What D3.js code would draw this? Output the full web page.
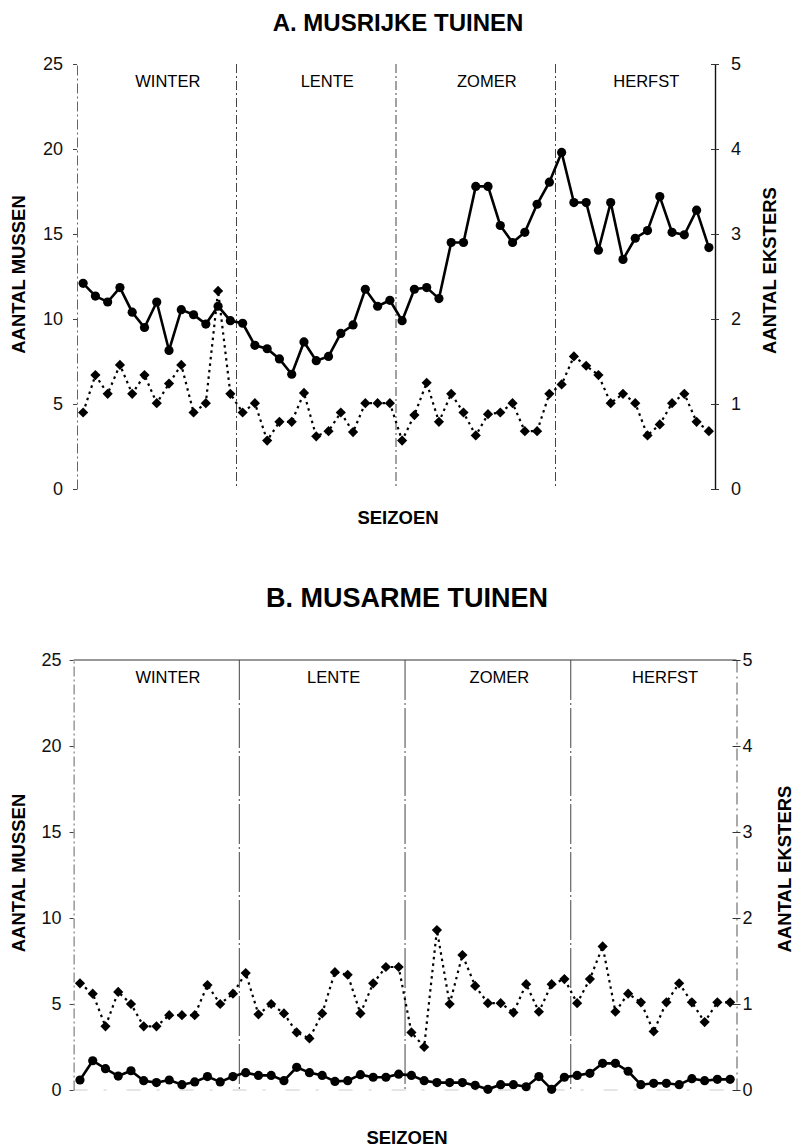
<!DOCTYPE html>
<html>
<head>
<meta charset="utf-8">
<script src="https://cdn.jsdelivr.net/npm/d3@7"></script>
<style>
  body { margin: 0; background: #fff; }
  svg { display: block; font-family: "Liberation Sans", Arial, sans-serif; }
</style>
</head>
<body>
<svg id="chart" width="796" height="1147"></svg>
<script>
const seasons = ["WINTER", "LENTE", "ZOMER", "HERFST"];
const weeks = d3.range(1, 53);
const seasonEnds = [13, 26, 39];
const mussenTicks = [0, 5, 10, 15, 20, 25];
const ekstersTicks = [0, 1, 2, 3, 4, 5];

// A. musrijke tuinen
const rijkMussen = [12.1, 11.35, 11.0, 11.85, 10.4, 9.5, 11.0, 8.15, 10.55, 10.25, 9.7, 10.75, 9.9,
  9.75, 8.45, 8.25, 7.65, 6.75, 8.65, 7.55, 7.8, 9.15, 9.65, 11.75, 10.75, 11.1,
  9.9, 11.75, 11.85, 11.2, 14.5, 14.5, 17.8, 17.8, 15.5, 14.5, 15.1, 16.75, 18.05,
  19.8, 16.85, 16.85, 14.05, 16.85, 13.5, 14.75, 15.2, 17.2, 15.1, 14.95, 16.4, 14.2];
const rijkEksters = [0.9, 1.34, 1.12, 1.46, 1.12, 1.34, 1.01, 1.24, 1.46, 0.9, 1.01, 2.33, 1.12,
  0.9, 1.01, 0.57, 0.79, 0.79, 1.13, 0.62, 0.68, 0.9, 0.67, 1.01, 1.01, 1.01,
  0.57, 0.87, 1.25, 0.79, 1.12, 0.9, 0.63, 0.88, 0.9, 1.01, 0.68, 0.68, 1.12,
  1.23, 1.56, 1.45, 1.34, 1.01, 1.12, 1.01, 0.63, 0.76, 1.01, 1.12, 0.79, 0.68];

// B. musarme tuinen
const armMussen = [0.58, 1.7, 1.24, 0.81, 1.12, 0.54, 0.43, 0.58, 0.31, 0.47, 0.78, 0.47, 0.78,
  1.01, 0.85, 0.85, 0.54, 1.32, 1.01, 0.85, 0.5, 0.54, 0.89, 0.74, 0.74, 0.92,
  0.85, 0.54, 0.43, 0.43, 0.43, 0.27, 0.04, 0.31, 0.31, 0.19, 0.78, 0.04, 0.74,
  0.85, 0.97, 1.55, 1.55, 1.09, 0.31, 0.39, 0.39, 0.31, 0.66, 0.54, 0.62, 0.62];
const armEksters = [1.24, 1.12, 0.74, 1.14, 1.0, 0.74, 0.74, 0.87, 0.87, 0.87, 1.22, 1.0, 1.12,
  1.36, 0.88, 1.0, 0.89, 0.67, 0.6, 0.89, 1.37, 1.34, 0.89, 1.24, 1.43, 1.43,
  0.67, 0.5, 1.86, 1.0, 1.57, 1.21, 1.01, 1.01, 0.9, 1.23, 0.91, 1.23, 1.29,
  1.01, 1.29, 1.67, 0.91, 1.12, 1.02, 0.68, 1.02, 1.24, 1.02, 0.79, 1.02, 1.02];

const svg = d3.select("#chart");

function drawPanel(p) {
  const g = svg.append("g");
  const x = d3.scaleLinear().domain([0.5, 52.5]).range([p.left, p.right]);
  const yM = d3.scaleLinear().domain([0, 25]).range([p.bottom, p.top]);
  const yE = d3.scaleLinear().domain([0, 5]).range([p.bottom, p.top]);

  g.append("text")
    .attr("x", (p.left + p.right) / 2 + 2)
    .attr("y", p.titleY)
    .attr("text-anchor", "middle")
    .attr("font-weight", "bold")
    .attr("font-size", p.titleSize)
    .text(p.title);

  if (p.frameTop) {
    g.append("line")
      .attr("x1", p.left).attr("x2", p.right)
      .attr("y1", p.top).attr("y2", p.top)
      .attr("stroke", "#333").attr("stroke-width", 1.2);
    g.append("line")
      .attr("x1", p.left).attr("x2", p.right)
      .attr("y1", p.bottom).attr("y2", p.bottom)
      .attr("stroke", "#ccc").attr("stroke-width", 1)
      .attr("stroke-dasharray", "14,16,3,20");
  }

  // season dividers
  g.selectAll("line.season")
    .data(seasonEnds)
    .join("line")
    .attr("class", "season")
    .attr("x1", (d) => x(d + 0.5)).attr("x2", (d) => x(d + 0.5))
    .attr("y1", p.top).attr("y2", p.bottom)
    .attr("stroke", "#444").attr("stroke-width", 1)
    .attr("stroke-dasharray", p.dividerDash);

  g.selectAll("text.season")
    .data(seasons)
    .join("text")
    .attr("class", "season")
    .attr("x", (d, i) => x(i * 13 + 7 + 0.9))
    .attr("y", p.top + 23)
    .attr("text-anchor", "middle")
    .attr("font-size", 16.5)
    .text((d) => d);

  const leftAxis = g.append("g")
    .attr("transform", `translate(${p.left},0)`)
    .call(d3.axisLeft(yM).tickValues(mussenTicks).tickFormat(d3.format("d"))
      .tickSize(4).tickSizeOuter(0).tickPadding(p.leftPad));
  leftAxis.select(".domain").attr("stroke", "#666").attr("stroke-dasharray", "10,3,2,3");
  leftAxis.selectAll(".tick line").attr("stroke", "#444");
  leftAxis.selectAll(".tick text")
    .attr("font-family", "Liberation Sans, Arial, sans-serif")
    .attr("font-size", 18).attr("fill", "#111");

  const rightAxis = g.append("g")
    .attr("transform", `translate(${p.right},0)`)
    .call(d3.axisRight(yE).tickValues(ekstersTicks).tickFormat(d3.format("d"))
      .tickSize(4).tickSizeOuter(0).tickPadding(p.rightPad));
  rightAxis.select(".domain")
    .attr("stroke", p.rightSolid ? "#111" : "#555")
    .attr("stroke-width", p.rightSolid ? 1.4 : 1)
    .attr("stroke-dasharray", p.rightSolid ? null : "12,4,2,4");
  rightAxis.selectAll(".tick line").attr("x1", -4).attr("x2", 4).attr("stroke", "#333");
  rightAxis.selectAll(".tick text")
    .attr("font-family", "Liberation Sans, Arial, sans-serif")
    .attr("font-size", 18).attr("fill", "#111");

  // axis titles
  g.append("text")
    .attr("transform", `translate(${p.mTitleX},${(p.top + p.bottom) / 2 - 2}) rotate(-90)`)
    .attr("text-anchor", "middle")
    .attr("dy", "0.35em")
    .attr("font-weight", "bold")
    .attr("font-size", 18.5)
    .text("AANTAL MUSSEN");
  g.append("text")
    .attr("transform", `translate(${p.eTitleX},${(p.top + p.bottom) / 2 - 6}) rotate(-90)`)
    .attr("text-anchor", "middle")
    .attr("dy", "0.35em")
    .attr("font-weight", "bold")
    .attr("font-size", 18.5)
    .text("AANTAL EKSTERS");
  g.append("text")
    .attr("x", (p.left + p.right) / 2 + 2)
    .attr("y", p.xTitleY)
    .attr("text-anchor", "middle")
    .attr("font-weight", "bold")
    .attr("font-size", 18.5)
    .text("SEIZOEN");

  // eksters: dotted line with diamonds
  g.append("path")
    .datum(p.eksters)
    .attr("fill", "none")
    .attr("stroke", "#000")
    .attr("stroke-width", 2.2)
    .attr("stroke-dasharray", "2.5,4")
    .attr("d", d3.line().x((d, i) => x(weeks[i])).y((d) => yE(d)));
  g.selectAll("path.diamond")
    .data(p.eksters)
    .join("path")
    .attr("class", "diamond")
    .attr("d", d3.symbol().type(d3.symbolSquare).size(52))
    .attr("transform", (d, i) => `translate(${x(weeks[i])},${yE(d)}) rotate(45)`)
    .attr("fill", "#000");

  // mussen: solid line with dots
  g.append("path")
    .datum(p.mussen)
    .attr("fill", "none")
    .attr("stroke", "#000")
    .attr("stroke-width", 2.6)
    .attr("d", d3.line().x((d, i) => x(weeks[i])).y((d) => yM(d)));
  g.selectAll("circle.dot")
    .data(p.mussen)
    .join("circle")
    .attr("class", "dot")
    .attr("cx", (d, i) => x(weeks[i]))
    .attr("cy", (d) => yM(d))
    .attr("r", 4.6)
    .attr("fill", "#000");
}

drawPanel({
  title: "A. MUSRIJKE TUINEN", titleY: 31, titleSize: 24,
  mussen: rijkMussen, eksters: rijkEksters,
  left: 77, right: 715, top: 64, bottom: 489,
  xTitleY: 524, frameTop: false, rightSolid: true,
  dividerDash: "9,3,2,3", leftPad: 10, rightPad: 12,
  mTitleX: 19, eTitleX: 770,
});

drawPanel({
  title: "B. MUSARME TUINEN", titleY: 607, titleSize: 27,
  mussen: armMussen, eksters: armEksters,
  left: 73.6, right: 736.5, top: 660, bottom: 1090,
  xTitleY: 1144, frameTop: true, rightSolid: false,
  dividerDash: "40,3,2,3", leftPad: 8, rightPad: 2,
  mTitleX: 19, eTitleX: 785,
});
</script>
</body>
</html>
